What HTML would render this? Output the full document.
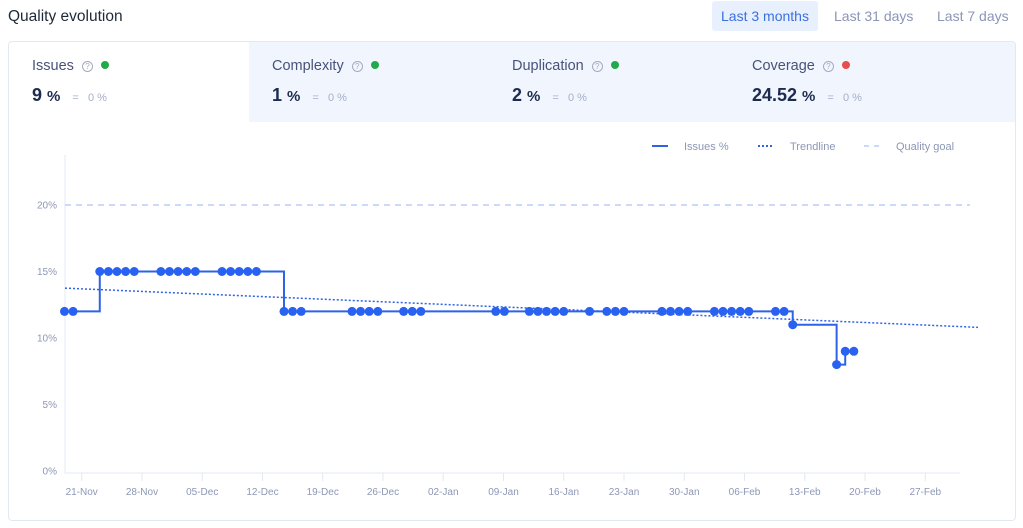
<!DOCTYPE html>
<html><head><meta charset="utf-8">
<style>
body{margin:0;width:1023px;height:528px;background:#fff;font-family:"Liberation Sans","DejaVu Sans",sans-serif;position:relative;overflow:hidden}
.title{position:absolute;left:8px;top:8px;font-size:15.5px;color:#1f2937}
.tabbtn{position:absolute;top:1px;height:30px;line-height:30px;font-size:14px;color:#8b95b8;padding:0 9px;border-radius:3px}
.card{position:absolute;left:8px;top:41px;width:1008px;height:480px;border:1px solid #e3e8f2;border-radius:4px;box-sizing:border-box;overflow:hidden}
.tabs{position:absolute;left:240px;top:0;width:770px;height:80px;background:#f1f6fe}
.metric{position:absolute;top:0;height:80px}
.mname{position:absolute;top:16px;font-size:14.5px;color:#475278;white-space:nowrap}
.q{display:inline-block;width:9px;height:9px;border:1px solid #a4aac0;border-radius:50%;font-size:8px;line-height:9px;text-align:center;color:#a4aac0;margin-left:8px;vertical-align:1px}
.dot{display:inline-block;width:8px;height:8px;border-radius:50%;margin-left:8px;vertical-align:1px}
.mval{position:absolute;top:43px;font-size:18px;font-weight:bold;color:#1d2b4f;white-space:nowrap}
.mval small{font-size:15px}
.mval span.d{font-size:11px;font-weight:normal;color:#a4aec8;margin-left:12px}
</style></head><body>
<div class="title">Quality evolution</div>
<div class="tabbtn" style="left:712px;background:#e8f0fd;color:#3a6fe0">Last 3 months</div>
<div class="tabbtn" style="left:825px">Last 31 days</div>
<div class="tabbtn" style="left:928px">Last 7 days</div>
<div class="card">
 <div class="tabs"></div>
 <div class="metric" style="left:0;width:240px">
  <div class="mname" style="left:23px">Issues<span class="q">?</span><span class="dot" style="background:#22a94a"></span></div>
  <div class="mval" style="left:23px">9 <small>%</small><span class="d">=&nbsp;&nbsp;&nbsp;0 %</span></div></div>
 <div class="metric" style="left:240px;width:240px">
  <div class="mname" style="left:23px">Complexity<span class="q">?</span><span class="dot" style="background:#22a94a"></span></div>
  <div class="mval" style="left:23px">1 <small>%</small><span class="d">=&nbsp;&nbsp;&nbsp;0 %</span></div></div>
 <div class="metric" style="left:480px;width:240px">
  <div class="mname" style="left:23px">Duplication<span class="q">?</span><span class="dot" style="background:#22a94a"></span></div>
  <div class="mval" style="left:23px">2 <small>%</small><span class="d">=&nbsp;&nbsp;&nbsp;0 %</span></div></div>
 <div class="metric" style="left:720px;width:280px">
  <div class="mname" style="left:23px">Coverage<span class="q">?</span><span class="dot" style="background:#e84c4c"></span></div>
  <div class="mval" style="left:23px">24.52 <small>%</small><span class="d">=&nbsp;&nbsp;&nbsp;0 %</span></div></div>
</div>
<svg id="chart" width="1023" height="528" style="position:absolute;left:0;top:0"></svg>
<script>
const days=[-2,-1,2.1,3.1,4.1,5.1,6.1,9.2,10.2,11.2,12.2,13.2,16.3,17.3,18.3,19.3,20.3,23.5,24.5,25.5,31.4,32.4,33.4,34.4,37.4,38.4,39.4,48.1,49.1,52,53,54,55,56,59,61,62,63,67.4,68.4,69.4,70.4,73.5,74.5,75.5,76.5,77.5,80.6,81.6,82.6,87.7,88.7,89.7];
const values=[12,12,15,15,15,15,15,15,15,15,15,15,15,15,15,15,15,12,12,12,12,12,12,12,12,12,12,12,12,12,12,12,12,12,12,12,12,12,12,12,12,12,12,12,12,12,12,12,12,11,8,9,9];
const yTicks=[0,5,10,15,20];
const xTickLabels=["21-Nov","28-Nov","05-Dec","12-Dec","19-Dec","26-Dec","02-Jan","09-Jan","16-Jan","23-Jan","30-Jan","06-Feb","13-Feb","20-Feb","27-Feb"];
const goal=[20];
const trend=[13.75,10.8];
const NS="http://www.w3.org/2000/svg";
const svg=document.getElementById('chart');
const X=d=>81.7+d*8.608, Y=v=>471-v*13.3;
function el(t,a){const e=document.createElementNS(NS,t);for(const k in a)e.setAttribute(k,a[k]);svg.appendChild(e);return e;}
let e;
e=el('line',{x1:65,y1:155,x2:65,y2:473,stroke:'#e3e8f2'});


e=el('line',{x1:65,y1:473,x2:960,y2:473,stroke:'#e3e8f2'});


yTicks.forEach(v=>{const t=el('text',{x:57,y:Y(v)+3.5,'text-anchor':'end','font-size':10,fill:'#8d97b5'});t.textContent=v+'%';

});
xTickLabels.forEach((l,i)=>{const x=X(i*7);el('line',{x1:x,y1:473,x2:x,y2:481,stroke:'#e3e8f2'});
const t=el('text',{x:x,y:495,'text-anchor':'middle','font-size':10,fill:'#8d97b5'});t.textContent=l;

});
e=el('line',{x1:65,y1:Y(goal[0]),x2:970,y2:Y(goal[0]),stroke:'#b9cdf5','stroke-width':1.5,'stroke-dasharray':'6,5'});


e=el('line',{x1:65,y1:Y(trend[0]),x2:978,y2:Y(trend[1]),stroke:'#2e62e8','stroke-width':1.5,'stroke-dasharray':'2,2'});


let d='M'+X(days[0])+','+Y(values[0]);
for(let i=1;i<days.length;i++){d+=' H'+X(days[i])+' V'+Y(values[i]);}
e=el('path',{d:d,fill:'none',stroke:'#2e62e8','stroke-width':2});


days.forEach((dd,i)=>{const c=el('circle',{cx:X(dd),cy:Y(values[i]),r:4.5,fill:'#2962f0'});

});
el('line',{x1:652,y1:146,x2:668,y2:146,stroke:'#2e62e8','stroke-width':2});
el('line',{x1:758,y1:146,x2:774,y2:146,stroke:'#2e62e8','stroke-width':2,'stroke-dasharray':'2,2'});
el('line',{x1:864,y1:146,x2:880,y2:146,stroke:'#b9cdf5','stroke-width':1.5,'stroke-dasharray':'5,5'});
[['Issues %',684,'legend-issues'],['Trendline',790,'legend-trendline'],['Quality goal',896,'legend-quality-goal']].forEach(a=>{
const t=el('text',{x:a[1],y:150,'font-size':11,fill:'#8d97b5'});t.textContent=a[0];

});
</script>
</body></html>
